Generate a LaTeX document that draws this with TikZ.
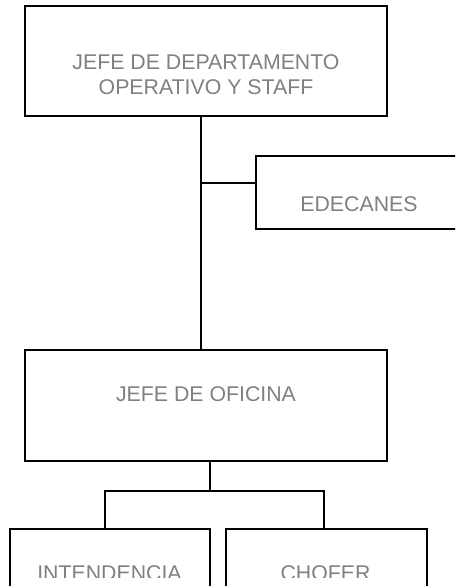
\documentclass[tikz,border=0pt]{standalone}
\usepackage{fontspec}
\setmainfont{Liberation Sans}
\begin{document}
\begin{tikzpicture}[x=1pt,y=-1pt,line width=1.2pt,
  caja/.style={draw,rectangle,inner sep=0pt,outer sep=0pt},
  texto/.style={text=gray,font=\fontsize{21.3}{24.5}\selectfont,align=center,inner sep=0pt}]
\useasboundingbox (0,0) rectangle (455,586);
\clip (0,0) rectangle (455,586);
\node[caja,minimum width=362,minimum height=110] (jefe) at (206,61) {};
\node[caja,minimum width=214,minimum height=73] (edecanes) at (363,192.5) {};
\node[caja,minimum width=362,minimum height=111] (oficina) at (206,405.5) {};
\node[caja,minimum width=200,minimum height=111] (intendencia) at (110,584.5) {};
\node[caja,minimum width=201,minimum height=111] (chofer) at (326.5,584.5) {};
\node[texto] (jefe-t) at (206,74.5) {JEFE DE DEPARTAMENTO\\OPERATIVO Y STAFF};
\node[texto] (edecanes-t) at (359,204) {EDECANES};
\node[texto] (oficina-t) at (206,394.5) {JEFE DE OFICINA};
\begin{scope}
\clip (0,0) rectangle (455,577);
\node[texto] (intendencia-t) at (109.5,573.5) {INTENDENCIA};
\node[texto] (chofer-t) at (325.5,573.5) {CHOFER};
\end{scope}
\coordinate (e) at (201,183);
\coordinate (r) at (210,491);
\coordinate (ri) at (105,491);
\coordinate (rc) at (324,491);
\draw (jefe.south -| e) -- (oficina.north -| e);
\draw (e) -- (e -| edecanes.west);
\draw (oficina.south -| r) -- (r);
\draw (intendencia.north -| ri) -- (ri) -- (rc) -- (chofer.north -| rc);
\end{tikzpicture}
\end{document}
